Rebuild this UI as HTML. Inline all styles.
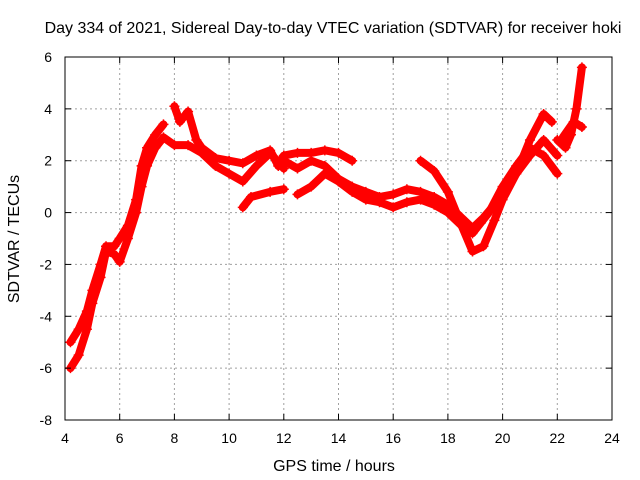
<!DOCTYPE html>
<html><head><meta charset="utf-8"><style>
html,body{margin:0;padding:0;background:#fff}
svg{display:block;font-family:"Liberation Sans",sans-serif}
</style></head><body>
<svg id="chart" width="640" height="480" viewBox="0 0 640 480">
<rect width="640" height="480" fill="#fff"/>
<g id="grid"></g>
<g id="series"></g>
<rect x="65" y="57" width="547" height="363" fill="none" stroke="#000" stroke-width="1"/>
<g id="ticks"></g>
<text x="333" y="33" text-anchor="middle" font-size="16">Day 334 of 2021, Sidereal Day-to-day VTEC variation (SDTVAR) for receiver hoki</text>
<text x="334" y="471" text-anchor="middle" font-size="16">GPS time / hours</text>
<text transform="translate(19,239) rotate(-90)" text-anchor="middle" font-size="16">SDTVAR / TECUs</text>
</svg>
<script>
const xTicks=[4,6,8,10,12,14,16,18,20,22,24];
const yTicks=[-8,-6,-4,-2,0,2,4,6];
const trackA=[[4.2,-5.0],[4.5,-4.5],[4.8,-3.8],[5.0,-3.0],[5.3,-2.0],[5.5,-1.3],[5.8,-1.3],[6.0,-1.0],[6.3,-0.5],[6.6,0.5],[6.8,1.8],[7.0,2.5],[7.3,3.0],[7.6,3.4]];
const trackB=[[4.2,-6.0],[4.5,-5.5],[4.8,-4.5],[5.0,-3.5],[5.3,-2.5],[5.5,-1.5],[5.8,-1.6],[6.0,-1.9],[6.3,-1.0],[6.6,0.0],[6.8,1.0],[7.0,1.8],[7.3,2.5],[7.6,2.9],[8.0,2.6],[8.5,2.6],[9.0,2.3],[9.5,1.8],[10.0,1.5],[10.5,1.2],[11.0,1.8],[11.5,2.3],[12.0,1.7]];
const trackC=[[8.0,4.1],[8.2,3.5],[8.5,3.9],[8.8,2.8],[9.0,2.5],[9.5,2.1],[10.0,2.0],[10.5,1.9],[11.0,2.2],[11.5,2.4],[11.8,1.8]];
const trackD=[[10.5,0.2],[10.8,0.6],[11.5,0.8],[12.0,0.9]];
const trackE=[[11.8,1.8],[12.0,2.2],[12.5,2.3],[13.0,2.3],[13.5,2.4],[14.0,2.3],[14.5,2.0]];
const trackF=[[12.5,0.7],[13.0,1.0],[13.5,1.5],[14.0,1.2],[14.5,0.8],[15.0,0.5],[15.5,0.4],[16.0,0.2],[16.5,0.4],[17.0,0.5],[17.5,0.3],[18.0,0.0],[18.5,-0.5],[18.9,-0.8],[19.2,-0.4],[19.5,0.0],[20.0,1.0],[20.5,1.8],[21.0,2.5],[21.5,2.2],[22.0,1.5]];
const trackG=[[12.0,2.0],[12.5,1.7],[13.0,2.0],[13.5,1.8],[14.0,1.3],[14.5,1.0],[15.0,0.8],[15.5,0.6],[16.0,0.7],[16.5,0.9],[17.0,0.8],[17.5,0.6],[18.0,0.3],[18.5,-0.2],[18.9,-0.6],[19.3,-0.2],[19.7,0.3],[20.0,0.8],[20.5,1.5],[21.0,2.8],[21.5,3.8],[21.8,3.5]];
const trackH=[[17.0,2.0],[17.5,1.6],[18.0,0.8],[18.5,-0.5],[18.9,-1.5],[19.3,-1.3],[19.7,-0.3],[20.0,0.5],[20.5,1.5],[21.0,2.2],[21.5,2.8],[22.0,2.2]];
const trackI=[[22.0,2.8],[22.3,2.5],[22.5,3.0],[22.7,4.0],[22.9,5.6]];
const trackJ=[[22.2,2.9],[22.6,3.5],[22.9,3.3]];
const tracks=[trackA,trackB,trackC,trackD,trackE,trackF,trackG,trackH,trackI,trackJ];
const NS='http://www.w3.org/2000/svg';
const X0=65,X1=612,Y0=420,Y1=57;
function sx(v){return X0+(v-4)/(24-4)*(X1-X0);}
function sy(v){return Y0-(v+8)/(6+8)*(Y0-Y1);}
function mk(t,a){const e=document.createElementNS(NS,t);for(const k in a)e.setAttribute(k,a[k]);return e;}
const grid=document.getElementById('grid'),ticks=document.getElementById('ticks'),ser=document.getElementById('series');
xTicks.forEach(v=>{const x=sx(v);
 if(v>4&&v<24){const g=mk('line',{x1:x,y1:Y0,x2:x,y2:Y1,stroke:'#a0a0a0','stroke-dasharray':'2,3'});
 
 grid.appendChild(g);}
 const t1=mk('line',{x1:x,y1:Y0,x2:x,y2:Y0-6,stroke:'#000'});
 
 ticks.appendChild(t1);
 const t2=mk('line',{x1:x,y1:Y1,x2:x,y2:Y1+6,stroke:'#000'});
 
 ticks.appendChild(t2);
 const l=mk('text',{x:x,y:443,'text-anchor':'middle','font-size':'14'});l.textContent=v;
 
 ticks.appendChild(l);});
yTicks.forEach(v=>{const y=sy(v);
 if(v>-8&&v<6){const g=mk('line',{x1:X0,y1:y,x2:X1,y2:y,stroke:'#a0a0a0','stroke-dasharray':'2,3'});
 
 grid.appendChild(g);}
 const t1=mk('line',{x1:X0,y1:y,x2:X0+6,y2:y,stroke:'#000'});
 
 ticks.appendChild(t1);
 const t2=mk('line',{x1:X1,y1:y,x2:X1-6,y2:y,stroke:'#000'});
 
 ticks.appendChild(t2);
 const l=mk('text',{x:X0-13,y:y+5,'text-anchor':'end','font-size':'14'});l.textContent=v;
 
 ticks.appendChild(l);});
tracks.forEach((tr,i)=>{
 const p=mk('polyline',{points:tr.map(d=>sx(d[0])+','+sy(d[1])).join(' '),fill:'none',stroke:'#f00','stroke-width':'8','stroke-linejoin':'round','stroke-linecap':'round'});
 
 ser.appendChild(p);
 tr.forEach(d=>{const x=sx(d[0]),y=sy(d[1]);
  const m=mk('path',{d:`M${x-5},${y}H${x+5}M${x},${y-5}V${y+5}`,stroke:'#f00','stroke-width':'1.5'});
  
  ser.appendChild(m);});
});
</script>
</body></html>
